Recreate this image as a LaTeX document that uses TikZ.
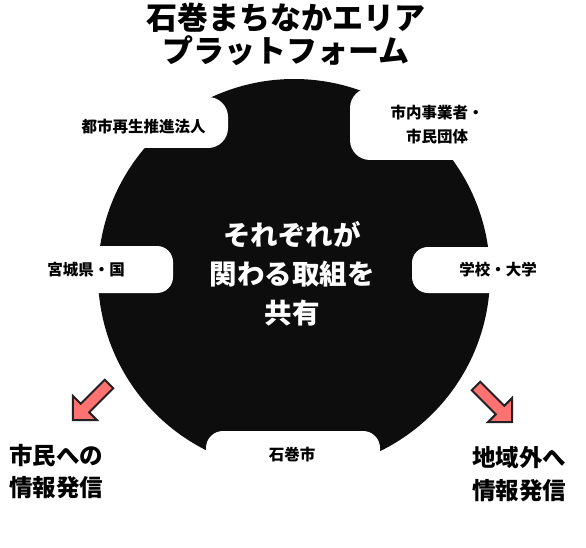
\documentclass[tikz,border=0pt]{standalone}
\usepackage{fontspec}
\newfontfamily\jp{Noto Sans CJK JP}
\definecolor{discblack}{HTML}{0D0D0D}
\definecolor{arrowpink}{HTML}{FF7272}
\definecolor{outline}{HTML}{222222}
\tikzset{
  disc/.style={circle, fill=discblack, inner sep=0pt, minimum size=392pt},
  tabfill/.style={fill=white, rounded corners=#1},
  tablabel/.style={font=\jp\bfseries\fontsize{15.5}{24}\selectfont, text=black, align=center, inner sep=0pt},
  title/.style={font=\jp\bfseries\fontsize{31}{33}\selectfont, align=center, inner sep=0pt},
  centre/.style={font=\jp\bfseries\fontsize{27.5}{39}\selectfont, text=white, align=center, inner sep=0pt},
  sidelabel/.style={font=\jp\bfseries\fontsize{23.5}{32.5}\selectfont, align=left, inner sep=0pt},
  pinkarrow/.style={fill=arrowpink, draw=outline, line width=2pt, miter limit=10}
}
\begin{document}
\begin{tikzpicture}[x=1pt,y=-1pt]
\useasboundingbox (0,0) rectangle (586,548);
% title
\node[title] (title) at (286,34) {石巻まちなかエリア\\プラットフォーム};
% disc
\node[disc] (disc) at (294,275) {};
% white tabs
\fill[tabfill=20pt] (55,97) rectangle (228,148);
\fill[tabfill=20pt] (350,88) rectangle (570,160);
\fill[tabfill=16pt] (30,246) rectangle (173,293);
\fill[tabfill=16pt] (412,247) rectangle (570,293);
\fill[tabfill=17pt] (206,431) rectangle (380,510);
% tab labels
\node[tablabel] (urban) at (143.5,127) {都市再生推進法人};
\node[tablabel] (biz) at (437,125) {市内事業者・\\市民団体};
\node[tablabel] (pref) at (86,270) {宮城県・国};
\node[tablabel] (school) at (498,270) {学校・大学};
\node[tablabel] (city) at (292,455) {石巻市};
% centre text
\node[centre] (share) at (292,274) {それぞれが\\関わる取組を\\共有};
% arrows
\draw[pinkarrow] (113.24,388.24) -- (89.2,412.3) -- (96.98,420.06) -- (72.94,420.06)
  -- (72.94,396.02) -- (80.72,403.8) -- (104.76,379.76) -- cycle;
\draw[pinkarrow] (471.76,390.24) -- (495.8,414.28) -- (488.02,422.06) -- (512.06,422.06)
  -- (512.06,398.02) -- (504.28,405.8) -- (480.24,381.76) -- cycle;
% side labels
\node[sidelabel, anchor=west] (citizens) at (9,471.5) {市民への\\情報発信};
\node[sidelabel, anchor=west] (outside) at (472,474) {地域外へ\\情報発信};
\end{tikzpicture}
\end{document}
